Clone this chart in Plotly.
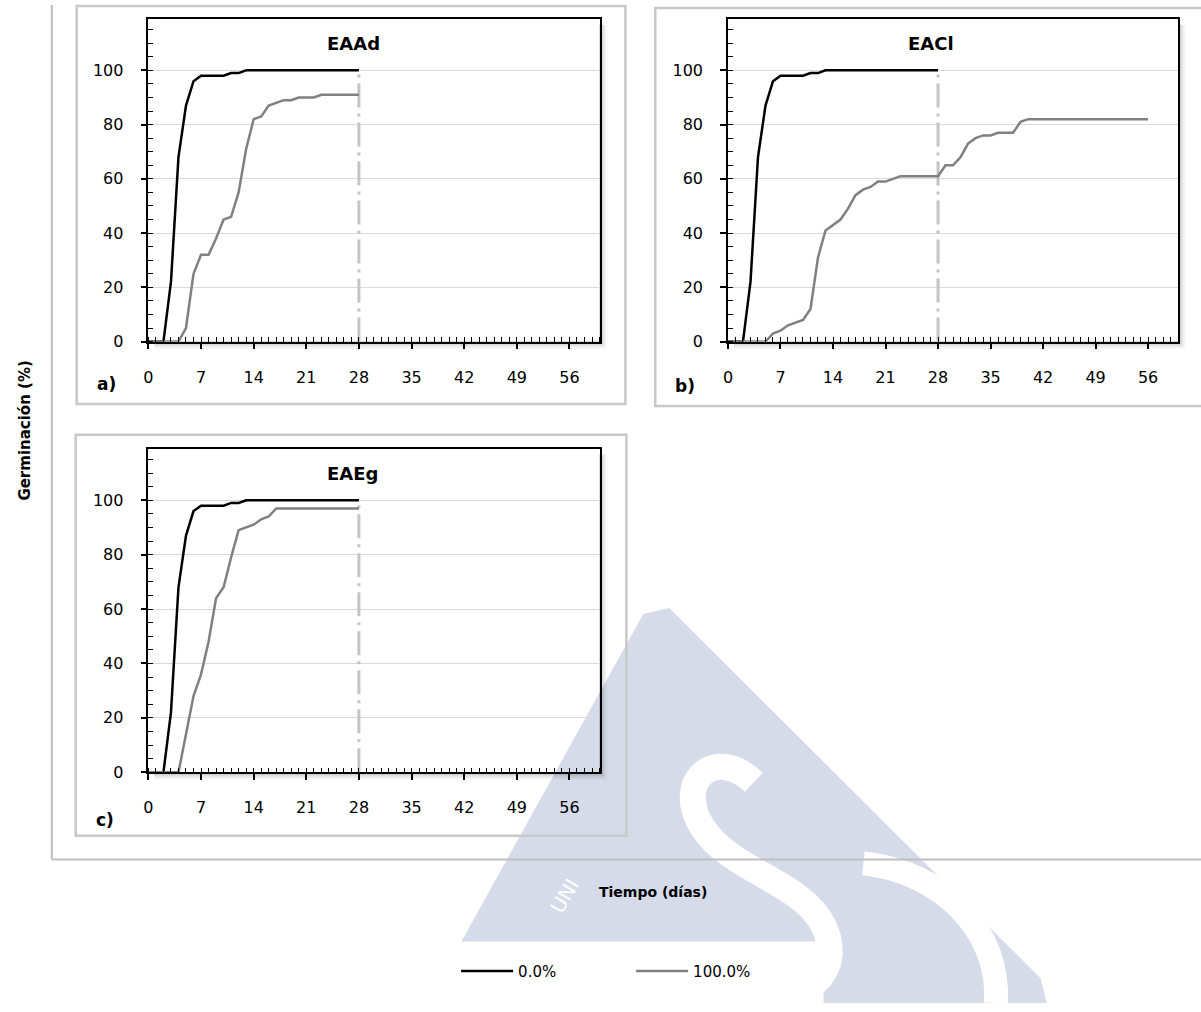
import plotly.graph_objects as go

W, H = 1201, 1012

# ---------------- data ----------------
days_28 = list(range(0, 29))
days_56 = list(range(0, 57))

ctrl_0 = [0, 0, 0, 22, 68, 87, 96, 98, 98, 98, 98, 99, 99, 100, 100, 100, 100, 100,
          100, 100, 100, 100, 100, 100, 100, 100, 100, 100, 100]

eaad_100 = [0, 0, 0, 0, 0, 5, 25, 32, 32, 38, 45, 46, 55, 71, 82, 83, 87, 88,
            89, 89, 90, 90, 90, 91, 91, 91, 91, 91, 91]

eacl_100 = [0, 0, 0, 0, 0, 0, 3, 4, 6, 7, 8, 12, 31, 41, 43, 45, 49, 54, 56, 57,
            59, 59, 60, 61, 61, 61, 61, 61, 61, 65, 65, 68, 73, 75, 76, 76, 77, 77,
            77, 81, 82, 82, 82, 82, 82, 82, 82, 82, 82, 82, 82, 82, 82, 82, 82, 82, 82]

eaeg_100 = [0, 0, 0, 0, 0, 14, 28, 36, 48, 64, 68, 79, 89, 90, 91, 93, 94, 97,
            97, 97, 97, 97, 97, 97, 97, 97, 97, 97, 97]

cut_day = [28, 28]
cut_val = [0, 100]

x_ticks = [0, 7, 14, 21, 28, 35, 42, 49, 56]
y_ticks = [0, 20, 40, 60, 80, 100]

panel_titles = ["EAAd", "EACl", "EAEg"]
panel_letters = ["a)", "b)", "c)"]
series_names = ["0.0%", "100.0%"]

# ---------------- helpers ----------------
def px(x):
    return x / W

def py(y):
    return 1 - y / H

def P(x, y):
    return f"{px(x):.5f},{py(y):.5f}"

FONT = "DejaVu Sans"
BLACK = "#000000"
GRAY = "#808080"

# plot areas in pixels: (x0, y0, x1, y1)
areas = [(144, 19, 597, 345), (726, 19, 1178, 345), (144, 453, 597, 780)]

fig = go.Figure()

panels = [
    (days_28, ctrl_0, days_28, eaad_100),
    (days_28, ctrl_0, days_56, eacl_100),
    (days_28, ctrl_0, days_28, eaeg_100),
]

for i, (xa, ya, xb, yb) in enumerate(panels):
    xs = "x" if i == 0 else f"x{i+1}"
    ys = "y" if i == 0 else f"y{i+1}"
    fig.add_trace(go.Scatter(x=cut_day, y=cut_val, mode="lines", xaxis=xs, yaxis=ys,
                             line=dict(color="#c4c4c4", width=3, dash="24px,6px,3px,6px"),
                             showlegend=False, hoverinfo="skip"))
    fig.add_trace(go.Scatter(x=xa, y=ya, mode="lines", xaxis=xs, yaxis=ys,
                             line=dict(color=BLACK, width=2.5), name=series_names[0],
                             showlegend=(i == 0), legendgroup="a"))
    fig.add_trace(go.Scatter(x=xb, y=yb, mode="lines", xaxis=xs, yaxis=ys,
                             line=dict(color=GRAY, width=2.5), name=series_names[1],
                             showlegend=(i == 0), legendgroup="b"))

layout = dict(
    width=W, height=H,
    margin=dict(l=0, r=0, t=0, b=0),
    paper_bgcolor="white", plot_bgcolor="white",
    font=dict(family=FONT, size=16, color="#000000"),
    legend=dict(orientation="h", x=px(453), y=py(981), xanchor="left", yanchor="middle",
                bgcolor="rgba(0,0,0,0)", font=dict(family=FONT, size=15, color="#000000"),
                itemwidth=52, entrywidth=108, traceorder="normal"),
)

for i, (x0, y0, x1, y1) in enumerate(areas):
    xk = "xaxis" if i == 0 else f"xaxis{i+1}"
    yk = "yaxis" if i == 0 else f"yaxis{i+1}"
    anc_x = "y" if i == 0 else f"y{i+1}"
    anc_y = "x" if i == 0 else f"x{i+1}"
    layout[xk] = dict(domain=[px(x0), px(x1)], anchor=anc_x, range=[0, 60],
                      tickmode="array", tickvals=x_ticks, ticks="outside", ticklen=6,
                      tickwidth=1.5, tickcolor=BLACK, showgrid=False, zeroline=False,
                      showline=True, linecolor=BLACK, linewidth=1.5, mirror=True,
                      ticklabelstandoff=14, tickfont=dict(size=16),
                      minor=dict(tickmode="linear", tick0=0, dtick=1, ticks="inside",
                                 ticklen=5, tickwidth=1, tickcolor=BLACK, showgrid=False))
    layout[yk] = dict(domain=[py(y1), py(y0)], anchor=anc_y, range=[0, 119],
                      tickmode="array", tickvals=y_ticks, ticks="outside", ticklen=6,
                      tickwidth=1.5, tickcolor=BLACK, showgrid=True, gridcolor="#d9d9d9",
                      gridwidth=1, zeroline=False, showline=True, linecolor=BLACK,
                      linewidth=1.5, mirror=True, ticklabelstandoff=14,
                      tickfont=dict(size=16),
                      minor=dict(tickmode="linear", tick0=0, dtick=5, ticks="inside",
                                 ticklen=5, tickwidth=1, tickcolor=BLACK, showgrid=False))

fig.update_layout(**layout)

shapes = []
WM = "#d5dbe8"
# watermark (approximate logo fragment)
shapes.append(dict(type="path", xref="paper", yref="paper", layer="below",
                   path=f"M {P(641,620)} L {P(667,614)} L {P(1040,988)} L {P(1046,1013)} "
                        f"L {P(424,1013)} Z",
                   fillcolor=WM, line=dict(width=0)))
# white letter strokes inside the watermark
shapes.append(dict(type="path", xref="paper", yref="paper", layer="below",
                   path=f"M {P(752,790)} C {P(712,752)} {P(672,790)} {P(700,835)} "
                        f"C {P(728,880)} {P(800,890)} {P(822,935)} "
                        f"C {P(842,978)} {P(810,1010)} {P(770,1000)}",
                   line=dict(color="white", width=26)))
shapes.append(dict(type="path", xref="paper", yref="paper", layer="below",
                   path=f"M {P(862,872)} C {P(940,880)} {P(1000,940)} {P(995,1013)}",
                   line=dict(color="white", width=24)))

# outer frame
shapes.append(dict(type="line", xref="paper", yref="paper", x0=px(47), x1=px(47),
                   y0=py(5), y1=py(868), line=dict(color="#bfbfbf", width=2)))
shapes.append(dict(type="line", xref="paper", yref="paper", x0=px(47), x1=px(1201),
                   y0=py(868), y1=py(868), line=dict(color="#bfbfbf", width=2)))
# panel boxes
for (bx0, by0, bx1, by1) in [(72, 6, 623, 408), (653, 8, 1206, 410), (71, 439, 624, 844)]:
    shapes.append(dict(type="rect", xref="paper", yref="paper", x0=px(bx0), x1=px(bx1),
                       y0=py(by1), y1=py(by0), line=dict(color="#c8c8c8", width=2.5),
                       fillcolor="rgba(0,0,0,0)", layer="below"))
# shadows of plot areas
alphas = [0.30, 0.24, 0.18, 0.13, 0.09, 0.06, 0.04, 0.02]
for (x0, y0, x1, y1) in areas:
    for j, a in enumerate(alphas):
        shapes.append(dict(type="rect", xref="paper", yref="paper", layer="below",
                           x0=px(x1 + j), x1=px(x1 + j + 1), y0=py(y1 + j + 1), y1=py(y0 + 6),
                           fillcolor=f"rgba(0,0,0,{a})", line=dict(width=0)))
        shapes.append(dict(type="rect", xref="paper", yref="paper", layer="below",
                           x0=px(x0 + 6), x1=px(x1 + j), y0=py(y1 + j + 1), y1=py(y1 + j),
                           fillcolor=f"rgba(0,0,0,{a})", line=dict(width=0)))
# legend white box
shapes.append(dict(type="rect", xref="paper", yref="paper", layer="below",
                   x0=px(415), x1=px(822), y0=py(1013), y1=py(951),
                   fillcolor="white", line=dict(width=0)))
fig.update_layout(shapes=shapes)

ann = []
title_pos = [(350, 44), (930, 44), (349, 478)]
for t, (tx, ty) in zip(panel_titles, title_pos):
    ann.append(dict(text=f"<b>{t}</b>", x=px(tx), y=py(ty), xref="paper", yref="paper",
                    showarrow=False, font=dict(size=18, family=FONT), xanchor="center",
                    yanchor="middle"))
letter_pos = [(102, 388), (683, 390), (100, 828)]
for t, (tx, ty) in zip(panel_letters, letter_pos):
    ann.append(dict(text=f"<b>{t}</b>", x=px(tx), y=py(ty), xref="paper", yref="paper",
                    showarrow=False, font=dict(size=17, family=FONT), xanchor="center",
                    yanchor="middle"))
ann.append(dict(text="<b>Germinación (%)</b>", x=px(20), y=py(435), xref="paper",
                yref="paper", showarrow=False, textangle=-90,
                font=dict(size=15, family=FONT), xanchor="center", yanchor="middle"))
ann.append(dict(text="<b>Tiempo (días)</b>", x=px(651), y=py(901), xref="paper",
                yref="paper", showarrow=False, font=dict(size=14, family=FONT),
                xanchor="center", yanchor="middle"))
ann.append(dict(text="UNI", x=px(562), y=py(905), xref="paper", yref="paper",
                showarrow=False, textangle=-60, font=dict(size=20, family=FONT, color="white"),
                xanchor="center", yanchor="middle"))
fig.update_layout(annotations=ann)

fig.write_html("out.html")
